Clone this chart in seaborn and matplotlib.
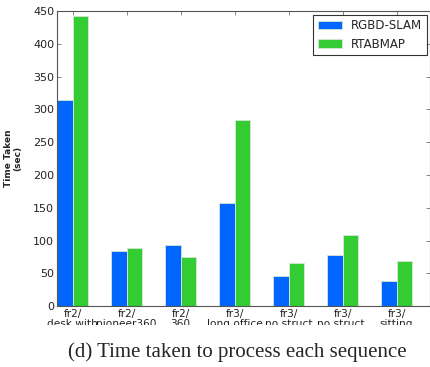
import matplotlib
matplotlib.use("Agg")
import matplotlib.pyplot as plt
import seaborn as sns
import pandas as pd
from matplotlib.patches import Rectangle

sequences = ["fr2/\ndesk with", "fr2/\npioneer360", "fr2/\n360", "fr3/\nlong office",
             "fr3/\nno struct", "fr3/\nno struct ", "fr3/\nsitting"]
methods = ["RGBD-SLAM", "RTABMAP"]
rgbd_slam = [314, 84, 93, 157, 46, 78, 38]
rtabmap = [442, 88, 75, 284, 65, 109, 68]
y_ticks = [0, 50, 100, 150, 200, 250, 300, 350, 400, 450]

df = pd.DataFrame({
    "sequence": sequences * 2,
    "method": [methods[0]] * len(sequences) + [methods[1]] * len(sequences),
    "time": rgbd_slam + rtabmap,
})

sns.set_style("white")
plt.rcParams["font.family"] = ["DejaVu Sans"]

fig = plt.figure(figsize=(4.31, 3.67), dpi=100)
ax = fig.add_axes([0.132, 0.166, 0.866, 0.804])

sns.barplot(data=df, x="sequence", y="time", hue="method", order=sequences,
            hue_order=methods, palette=["#0066ff", "#33cc33"], width=0.58,
            edgecolor="#d8e8d8", linewidth=0.6, saturation=1, ax=ax)

ax.set_xlim(-0.29, 6.62)
ax.set_ylim(0, 450)
ax.set_yticks(y_ticks)
ax.set_xlabel("")
ax.set_ylabel("Time Taken\n(sec)", fontsize=6.5, fontweight="bold", labelpad=8,
              linespacing=1.0)
ax.tick_params(axis="both", which="both", direction="in", top=True, right=True,
               bottom=True, left=True, length=3, width=0.5, color="#555555",
               labelsize=8, pad=2, labelcolor="#222222")
ax.tick_params(axis="x", labelsize=7.6)
for lbl in ax.get_xticklabels():
    lbl.set_linespacing(1.05)
for sp in ax.spines.values():
    sp.set_color("#555555")
    sp.set_linewidth(0.8)

leg = ax.legend(loc="upper right", fontsize=8.5, frameon=True, fancybox=False,
                borderaxespad=0.3, handlelength=2.1, handleheight=0.7,
                borderpad=0.4, labelspacing=0.45, handletextpad=0.7)
leg.get_frame().set_edgecolor("black")
leg.get_frame().set_linewidth(0.8)

# white band that cuts off the long tick labels, with the caption on top
fig.patches.append(Rectangle((0, 0), 1, (367 - 325) / 367, transform=fig.transFigure,
                             facecolor="white", edgecolor="none", zorder=10))
fig.text(0.551, 0.04, "(d) Time taken to process each sequence", ha="center",
         va="center", fontsize=15, family="Liberation Serif", zorder=11)

fig.savefig("out.png", dpi=100)
